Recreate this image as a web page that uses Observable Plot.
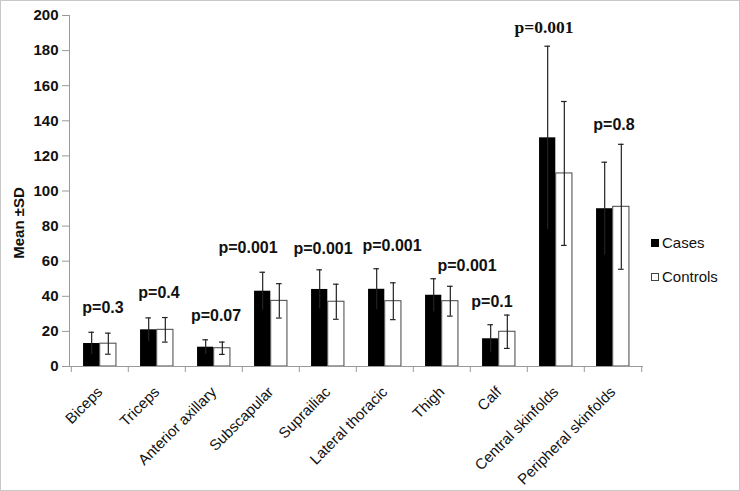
<!DOCTYPE html>
<html><head><meta charset="utf-8">
<script src="https://cdn.jsdelivr.net/npm/d3@7"></script>
<script src="https://cdn.jsdelivr.net/npm/@observablehq/plot@0.6"></script>
<style>
body{margin:0;background:#fff;}
#wrap{position:relative;width:740px;height:491px;overflow:hidden;font-family:"Liberation Sans",Arial,sans-serif;background:#fff;}
#border{position:absolute;left:0;top:0;width:740px;height:491px;box-sizing:border-box;border:1px solid #c8c8c8;pointer-events:none;}
.lg{position:absolute;left:651px;font-size:15px;line-height:18px;color:#111;white-space:nowrap;}
.sw{display:inline-block;width:8px;height:8px;margin-right:3px;vertical-align:1px;box-sizing:border-box;}
#ylabel{position:absolute;left:18.5px;top:223px;transform:translate(-50%,-50%) rotate(-90deg);font-size:15px;font-weight:bold;color:#111;white-space:nowrap;line-height:18px;}
</style></head>
<body><div id="wrap"><div id="chart"></div><div id="ylabel"></div><div id="legend"></div><div id="border"></div></div>
<script>
// ---- data ----
const categories = ["Biceps","Triceps","Anterior axillary","Subscapular","Suprailiac","Lateral thoracic","Thigh","Calf","Central skinfolds","Peripheral skinfolds"];
const casesMean = [13.1, 20.9, 11.0, 42.9, 43.9, 44.0, 40.6, 15.8, 130.3, 89.9];
const casesSD = [6.4, 6.8, 4.2, 10.8, 11.2, 11.7, 9.4, 8.0, 52.2, 26.5];
const controlsMean = [13.0, 20.9, 10.4, 37.4, 36.9, 37.2, 37.2, 19.8, 110.0, 91.0];
const controlsSD = [6.0, 7.0, 3.5, 9.8, 10.0, 10.5, 8.5, 9.5, 41.0, 35.6];
const pLabels = ["p=0.3","p=0.4","p=0.07","p=0.001","p=0.001","p=0.001","p=0.001","p=0.1","p=0.001","p=0.8"];
const serifLabelCategory = "Central skinfolds";
const yTicks = [0,20,40,60,80,100,120,140,160,180,200];
const seriesNames = ["Cases","Controls"];
const yLabel = "Mean ±SD";

// ---- layout ----
const W = 740, H = 491, ml = 69, mr = 97, mt = 15, mb = 125;
const bw = (W - ml - mr) / categories.length;
const barW = bw * 0.29;
const capHalf = 3;
// hand-placed annotation nudges (pixels) for the p-value labels, as in the original figure
const pLabelNudge = [[3,-2],[2,-3],[2,-2],[-23,-2],[-5,1],[7,-1],[25,9],[-7,9],[-12,3],[1,3]];

const rows = categories.map((c, i) => ({
  cat: c, cm: casesMean[i], cs: casesSD[i], tm: controlsMean[i], ts: controlsSD[i], p: pLabels[i],
  top: Math.max(casesMean[i] + casesSD[i], controlsMean[i] + controlsSD[i])
}));

const sans = "Liberation Sans, Arial, sans-serif";
const serif = "Liberation Serif, Times New Roman, serif";
const errStroke = "#222";

const pMarks = rows.map((d, i) => Plot.text([d], {
  x: "cat", y: "top", text: "p",
  dx: pLabelNudge[i][0], dy: -22 + pLabelNudge[i][1],
  fontSize: d.cat === serifLabelCategory ? 17.5 : 16, fontWeight: "bold", fill: "#111",
  fontFamily: d.cat === serifLabelCategory ? serif : sans
}));

const chart = Plot.plot({
  width: W, height: H,
  marginLeft: ml, marginRight: mr, marginTop: mt, marginBottom: mb,
  style: {fontFamily: sans, background: "transparent"},
  x: {domain: categories, padding: 0, label: null},
  y: {domain: [0, 200], label: null},
  marks: [
    Plot.barY(rows, {x: "cat", y: "cm", fill: "#000", insetLeft: bw/2 - barW, insetRight: bw/2}),
    Plot.barY(rows, {x: "cat", y: "tm", fill: "#fff", stroke: "#444", strokeWidth: 1, insetLeft: bw/2, insetRight: bw/2 - barW}),
    Plot.ruleX(rows, {x: "cat", y1: d => d.cm - d.cs, y2: d => d.cm + d.cs, dx: -barW/2, stroke: errStroke, strokeWidth: 1.2}),
    Plot.tickY(rows, {x: "cat", y: d => d.cm + d.cs, dx: -barW/2, insetLeft: bw/2 - capHalf, insetRight: bw/2 - capHalf, stroke: errStroke, strokeWidth: 1.2}),
    Plot.ruleX(rows, {x: "cat", y1: d => d.tm - d.ts, y2: d => d.tm + d.ts, dx: barW/2, stroke: errStroke, strokeWidth: 1.2}),
    Plot.tickY(rows, {x: "cat", y: d => d.tm + d.ts, dx: barW/2, insetLeft: bw/2 - capHalf, insetRight: bw/2 - capHalf, stroke: errStroke, strokeWidth: 1.2}),
    Plot.tickY(rows, {x: "cat", y: d => d.tm - d.ts, dx: barW/2, insetLeft: bw/2 - capHalf, insetRight: bw/2 - capHalf, stroke: errStroke, strokeWidth: 1.2}),
    Plot.ruleY([0], {stroke: "#999"}),
    Plot.frame({anchor: "left", stroke: "#999"}),
    Plot.axisY({ticks: yTicks, tickSize: 7, tickPadding: 4, fontSize: 15, fontWeight: "bold", fill: "#111", stroke: "#999", label: null}),
    Plot.axisX({ticks: categories, tickSize: 6, dx: -bw/2, tickFormat: () => "", stroke: "#999", label: null}),
    Plot.axisX({ticks: categories.slice(-1), tickSize: 6, dx: bw/2, tickFormat: () => "", stroke: "#999", label: null}),
    Plot.axisX({ticks: categories, tickSize: 0, tickPadding: 23, tickRotate: -45, fontSize: 15, fill: "#111", label: null}),
    ...pMarks
  ]
});
document.getElementById("chart").appendChild(chart);
document.getElementById("ylabel").textContent = yLabel;

const legend = document.getElementById("legend");
seriesNames.forEach((name, i) => {
  const div = document.createElement("div");
  div.className = "lg";
  div.style.top = (234 + i * 34) + "px";
  const sw = document.createElement("span");
  sw.className = "sw";
  sw.style.background = i === 0 ? "#000" : "#fff";
  sw.style.border = i === 0 ? "none" : "1px solid #444";
  div.appendChild(sw);
  div.appendChild(document.createTextNode(name));
  legend.appendChild(div);
});
</script>
</body></html>
